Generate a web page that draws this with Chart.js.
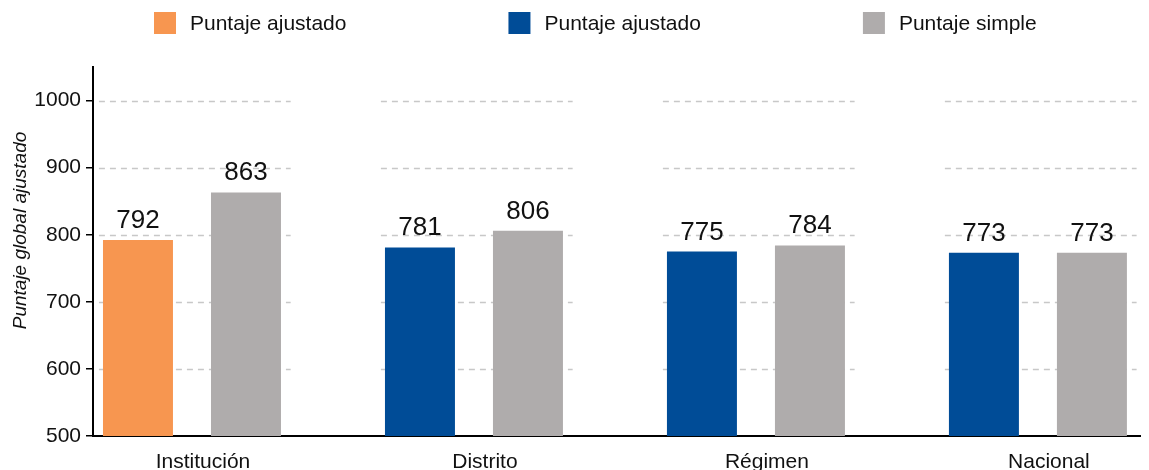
<!DOCTYPE html>
<html lang="es">
<head>
<meta charset="utf-8">
<title>Puntaje global ajustado</title>
<script src="https://cdn.jsdelivr.net/npm/chart.js@4/dist/chart.umd.min.js"></script>
<style>
  html, body { margin: 0; padding: 0; background: #fff; }
  #wrap { width: 1149px; height: 470px; }
</style>
</head>
<body>
<div id="wrap"><canvas id="chart"></canvas></div>
<script>
// values
const categories = ["Institución", "Distrito", "Régimen", "Nacional"];
const ajustado = [792, 781, 775, 773];
const simple = [863, 806, 784, 773];
const yTicks = [500, 600, 700, 800, 900, 1000];
const legendLabels = ["Puntaje ajustado", "Puntaje ajustado", "Puntaje simple"];
const yTitle = "Puntaje global ajustado";

const ORANGE = "#F79650";
const BLUE = "#004C97";
const GRAY = "#AFACAC";
const GRID = "#C8C8C8";
const TEXT = "#111";
const FONT = "'Liberation Sans', Arial, sans-serif";
const legendColors = [ORANGE, BLUE, GRAY];
// first category is the institution itself, drawn in orange
const ajustadoColors = categories.map((c, i) => (i === 0 ? ORANGE : BLUE));

const decorations = {
  id: "decorations",
  beforeDatasetsDraw(chart) {
    // dashed grid, broken into one stretch per category
    const { ctx, scales: { x, y } } = chart;
    ctx.save();
    ctx.strokeStyle = GRID;
    ctx.lineWidth = 1.5;
    ctx.setLineDash([6, 5]);
    yTicks.slice(1).forEach((v) => {
      const py = Math.round(y.getPixelForValue(v)) + 0.5;
      categories.forEach((c, i) => {
        ctx.beginPath();
        ctx.moveTo(x.getPixelForValue(i - 0.33), py);
        ctx.lineTo(x.getPixelForValue(i + 0.35), py);
        ctx.stroke();
      });
    });
    ctx.restore();
  },
  afterDatasetsDraw(chart) {
    const { ctx } = chart;
    ctx.save();
    ctx.font = `26px ${FONT}`;
    ctx.fillStyle = TEXT;
    ctx.textAlign = "center";
    ctx.textBaseline = "alphabetic";
    chart.data.datasets.forEach((ds, di) => {
      chart.getDatasetMeta(di).data.forEach((bar, i) => {
        ctx.fillText(String(ds.data[i].y), bar.x, bar.y - 12);
      });
    });
    ctx.restore();
  },
  afterDraw(chart) {
    const { ctx, chartArea } = chart;
    ctx.save();
    // legend
    ctx.font = `21px ${FONT}`;
    ctx.textAlign = "left";
    ctx.textBaseline = "middle";
    let lx = 154;
    legendLabels.forEach((label, i) => {
      ctx.fillStyle = legendColors[i];
      ctx.fillRect(lx, 12, 22, 22);
      ctx.fillStyle = TEXT;
      ctx.fillText(label, lx + 36, 24);
      lx += 36 + ctx.measureText(label).width + 162;
    });
    // y axis title
    ctx.translate(21, (chartArea.top + chartArea.bottom) / 2 - 21);
    ctx.rotate(-Math.PI / 2);
    ctx.font = `italic 19px ${FONT}`;
    ctx.textAlign = "center";
    ctx.fillText(yTitle, 0, 0);
    ctx.restore();
  },
};

new Chart(document.getElementById("chart"), {
  type: "bar",
  data: {
    datasets: [
      {
        label: "Puntaje ajustado",
        data: categories.map((c, i) => ({ x: i, y: ajustado[i] })),
        backgroundColor: ajustadoColors,
      },
      {
        label: "Puntaje simple",
        data: categories.map((c, i) => ({ x: i, y: simple[i] })),
        backgroundColor: GRAY,
      },
    ],
  },
  options: {
    responsive: true,
    maintainAspectRatio: false,
    animation: false,
    categoryPercentage: 0.766,
    barPercentage: 0.648,
    layout: { padding: { top: 67, left: 0, right: 9, bottom: 0 } },
    plugins: {
      legend: { display: false },
      tooltip: { enabled: false },
    },
    scales: {
      x: {
        type: "linear",
        offset: false,
        min: -0.351,
        max: 3.362,
        afterBuildTicks: (s) => { s.ticks = categories.map((c, i) => ({ value: i })); },
        afterFit: (s) => { s.height = 34; },
        grid: { display: false, offset: false },
        border: { display: true, color: "#000", width: 2 },
        ticks: {
          autoSkip: false,
          maxRotation: 0,
          padding: 6,
          labelOffset: 11,
          color: TEXT,
          font: { family: FONT, size: 21 },
          callback: (v) => categories[v],
        },
      },
      y: {
        min: 500,
        max: 1050,
        afterBuildTicks: (s) => { s.ticks = yTicks.map((v) => ({ value: v })); },
        afterFit: (s) => { s.width = 93; },
        grid: { drawOnChartArea: false, drawTicks: true, tickLength: 7, color: "#000", lineWidth: 1.5 },
        border: { color: "#000", width: 2 },
        ticks: {
          padding: 5,
          color: TEXT,
          font: { family: FONT, size: 21 },
          callback: (v) => String(v),
        },
      },
    },
  },
  plugins: [decorations],
});
</script>
</body>
</html>
